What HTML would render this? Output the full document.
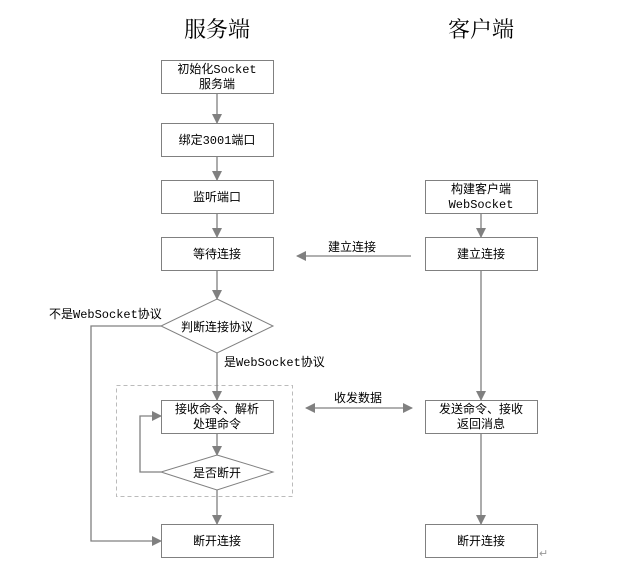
<!DOCTYPE html>
<html><head><meta charset="utf-8"><style>
body{margin:0;background:#fff}
svg text{font-family:"Liberation Mono","Noto Sans CJK SC",sans-serif;font-size:12px;fill:#000}
</style></head><body>
<svg width="635" height="575" xmlns="http://www.w3.org/2000/svg">
<defs><marker id="a" markerWidth="10" markerHeight="10" refX="9" refY="5" orient="auto" markerUnits="userSpaceOnUse"><path d="M0,0 L10,5 L0,10 z" fill="#808080"/></marker>
<marker id="b" markerWidth="10" markerHeight="10" refX="1" refY="5" orient="auto" markerUnits="userSpaceOnUse"><path d="M10,0 L0,5 L10,10 z" fill="#808080"/></marker></defs>
<text x="217" y="37" text-anchor="middle" style="font-family:'Noto Serif CJK SC',serif;font-size:22px">服务端</text>
<text x="481" y="37" text-anchor="middle" style="font-family:'Noto Serif CJK SC',serif;font-size:22px">客户端</text>
<g fill="#fff" stroke="#808080" stroke-width="1">
<rect x="161.5" y="60.5" width="112" height="33"/>
<rect x="161.5" y="123.5" width="112" height="33"/>
<rect x="161.5" y="180.5" width="112" height="33"/>
<rect x="161.5" y="237.5" width="112" height="33"/>
<polygon points="217,299 273,326 217,353 161,326"/>
<rect x="116.5" y="385.5" width="176" height="111" fill="none" stroke="#bbb" stroke-dasharray="4,3"/>
<rect x="161.5" y="400.5" width="112" height="33"/>
<polygon points="217,455 273,472 217,490 161,472"/>
<rect x="161.5" y="524.5" width="112" height="33"/>
<rect x="425.5" y="180.5" width="112" height="33"/>
<rect x="425.5" y="237.5" width="112" height="33"/>
<rect x="425.5" y="400.5" width="112" height="33"/>
<rect x="425.5" y="524.5" width="112" height="33"/>
</g>
<g stroke="#808080" stroke-width="1.3" fill="none" marker-end="url(#a)">
<line x1="217" y1="94" x2="217" y2="123"/>
<line x1="217" y1="157" x2="217" y2="180"/>
<line x1="217" y1="214" x2="217" y2="237"/>
<line x1="217" y1="271" x2="217" y2="299"/>
<line x1="217" y1="353" x2="217" y2="400"/>
<line x1="217" y1="434" x2="217" y2="455"/>
<line x1="217" y1="490" x2="217" y2="524"/>
<polyline points="161,326 91,326 91,541 161,541"/>
<polyline points="161,472 140,472 140,416 161,416"/>
<line x1="481" y1="214" x2="481" y2="237"/>
<line x1="481" y1="271" x2="481" y2="400"/>
<line x1="481" y1="434" x2="481" y2="524"/>
<line x1="411" y1="256" x2="297" y2="256"/>
<line x1="306" y1="408" x2="412" y2="408" marker-start="url(#b)"/>
</g>
<g text-anchor="middle">
<text x="217" y="73">初始化Socket</text><text x="217" y="88">服务端</text>
<text x="217" y="144">绑定3001端口</text>
<text x="217" y="201">监听端口</text>
<text x="217" y="258">等待连接</text>
<text x="217" y="331">判断连接协议</text>
<text x="217" y="413">接收命令、解析</text><text x="217" y="428">处理命令</text>
<text x="217" y="477">是否断开</text>
<text x="217" y="545">断开连接</text>
<text x="481" y="193">构建客户端</text><text x="481" y="208">WebSocket</text>
<text x="481" y="258">建立连接</text>
<text x="481" y="413">发送命令、接收</text><text x="481" y="428">返回消息</text>
<text x="481" y="545">断开连接</text>
<text x="352" y="251">建立连接</text>
<text x="358" y="402">收发数据</text>
</g>
<text x="49" y="318">不是WebSocket协议</text>
<text x="224" y="366">是WebSocket协议</text>
<text x="539" y="557" style="fill:#999;font-size:11px">↵</text>
</svg>
</body></html>
